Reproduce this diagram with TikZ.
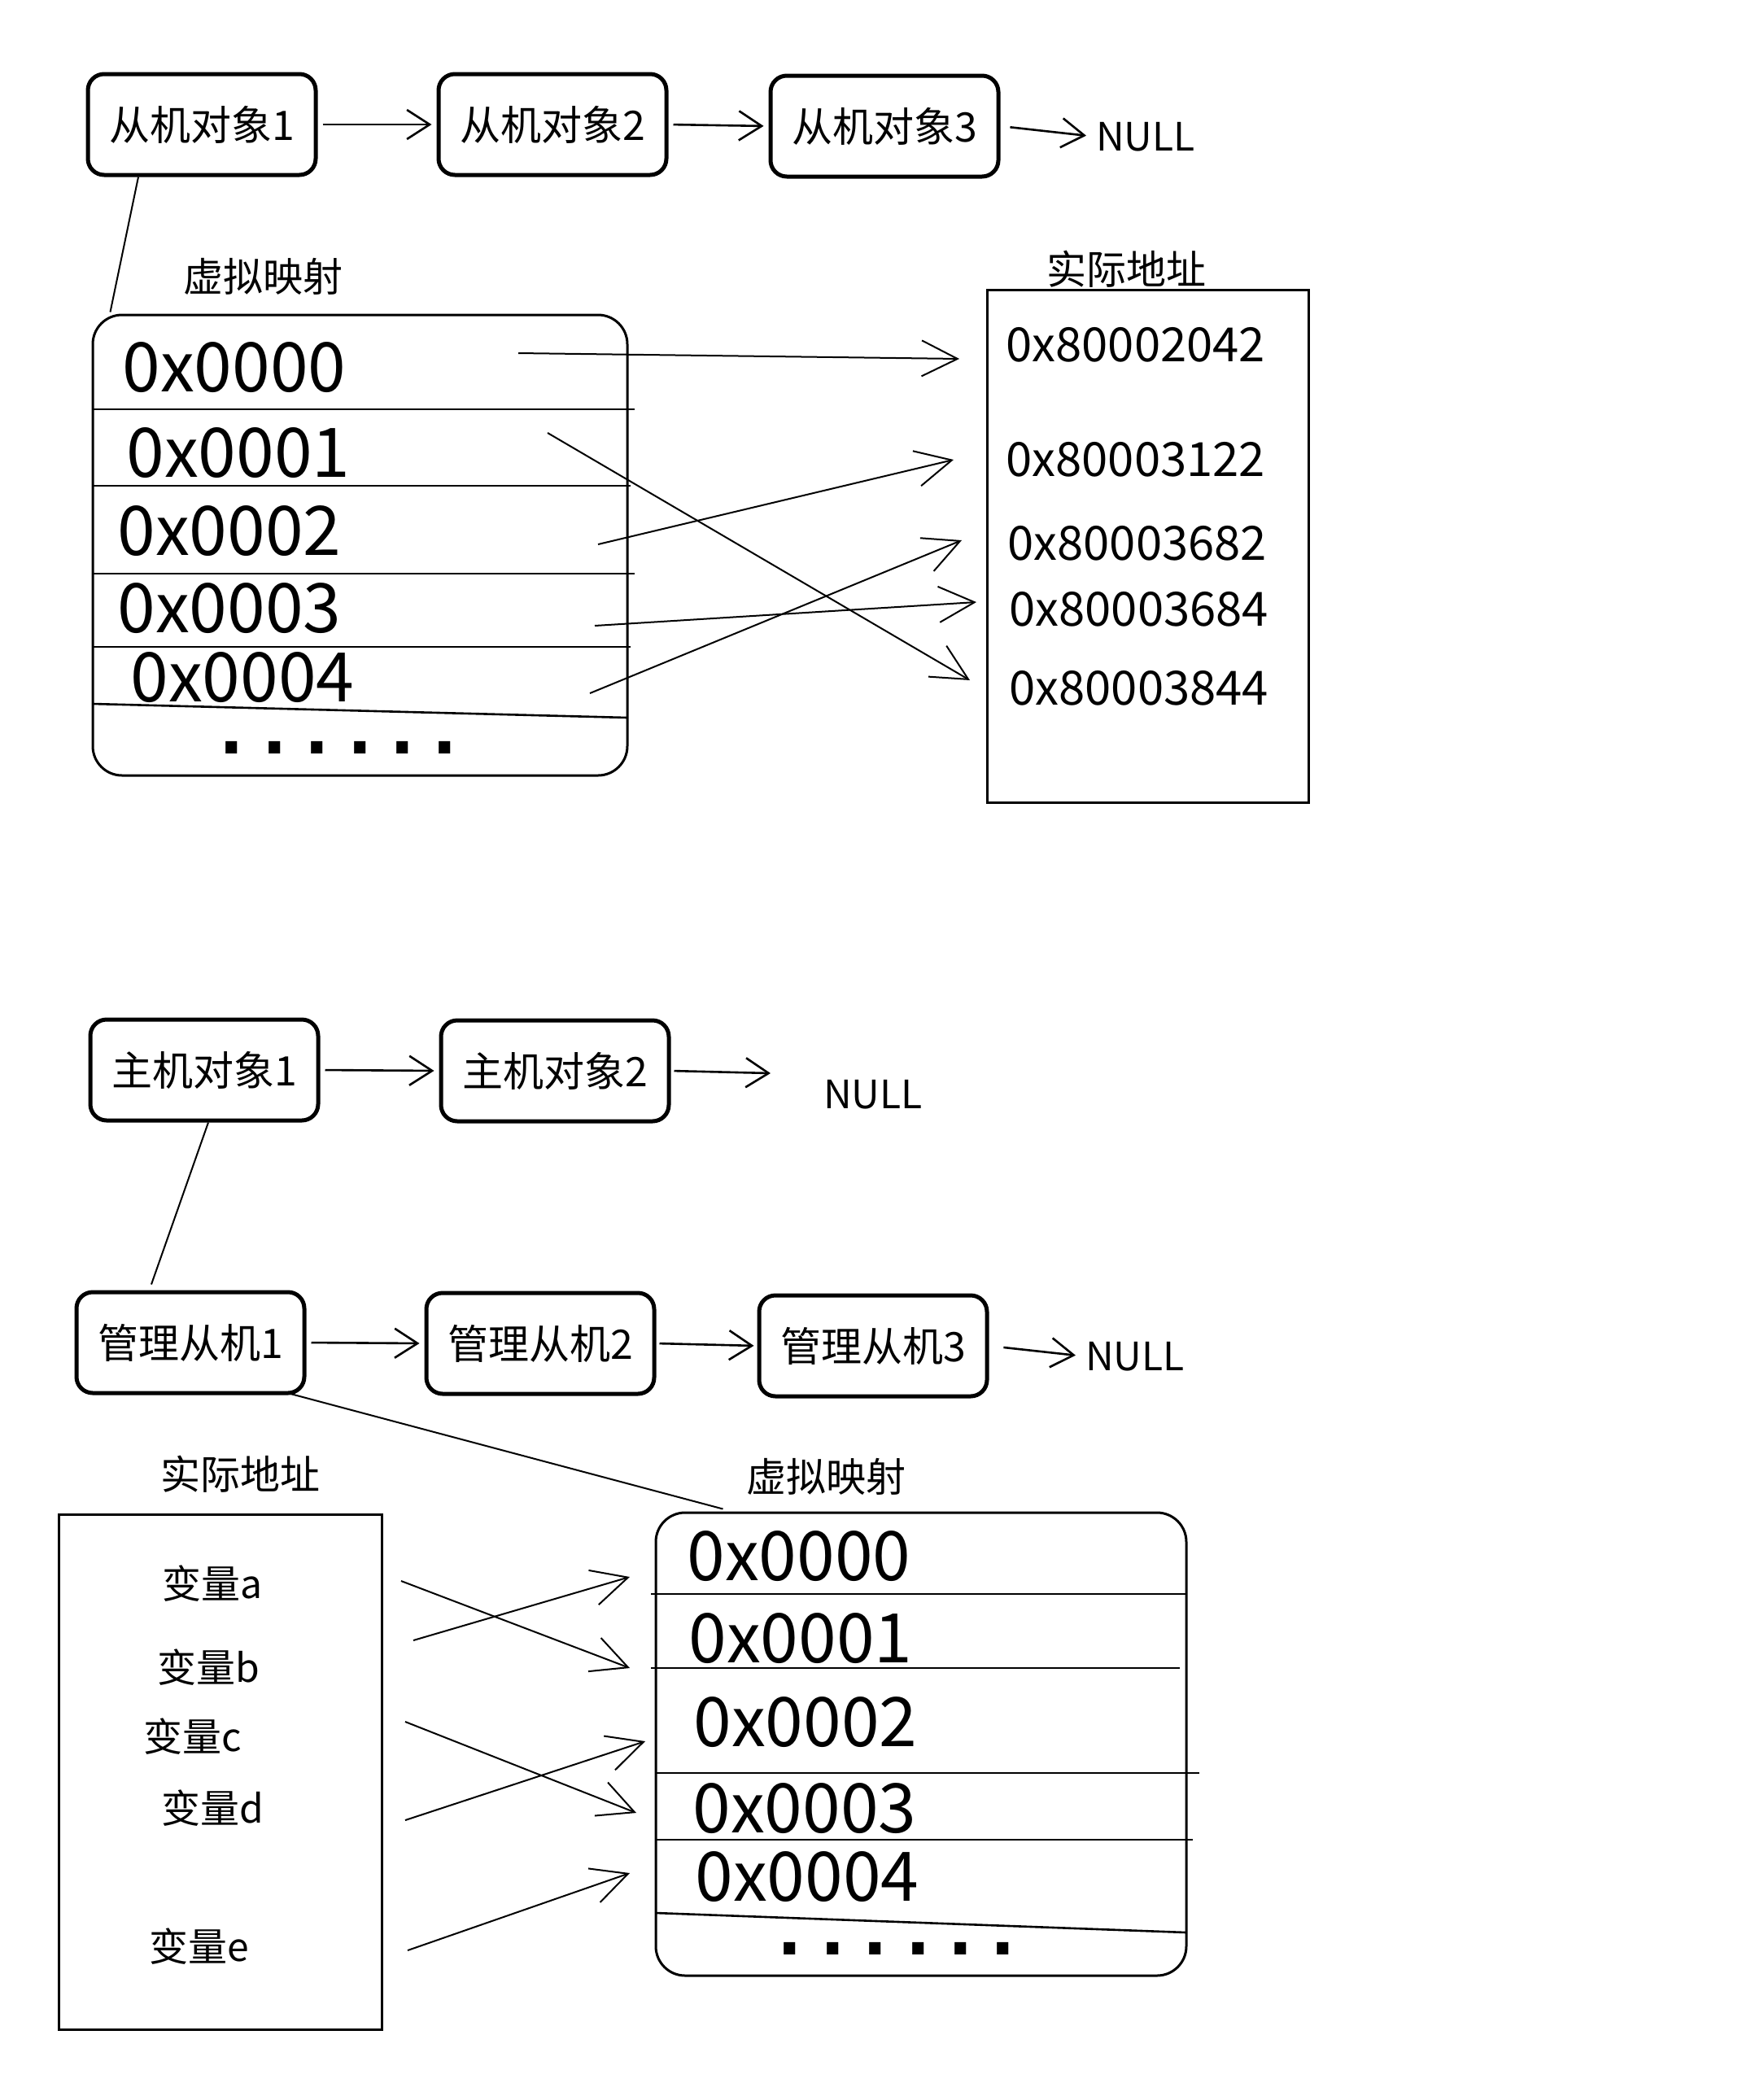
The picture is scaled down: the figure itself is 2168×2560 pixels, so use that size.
\documentclass[tikz,border=0pt]{standalone}
\usepackage{fontspec}
\setmainfont{Noto Sans CJK SC}
\newfontfamily\dotfont{DejaVu Sans}
\usetikzlibrary{arrows.meta,calc}
\newcommand\mydots{.\hspace{11pt}.\hspace{11pt}.\hspace{11pt}.\hspace{11pt}.\hspace{11pt}.}
\begin{document}
\begin{tikzpicture}[x=0.5pt,y=-0.5pt,
  obj/.style={draw, line width=2.5pt, rounded corners=10pt, minimum width=140pt, minimum height=62pt, inner sep=0pt, font=\fontsize{25}{25}\selectfont},
  tblbox/.style={draw, line width=1.5pt, rounded corners=18pt, inner sep=0pt},
  membox/.style={draw, line width=1.5pt, inner sep=0pt},
  rowline/.style={line width=1.3pt},
  bighex/.style={anchor=west, inner sep=0pt, font=\fontsize{42}{42}\selectfont},
  smallhex/.style={anchor=west, inner sep=0pt, font=\fontsize{29}{29}\selectfont},
  caption/.style={inner sep=0pt, font=\fontsize{24.5}{24.5}\selectfont},
  varlabel/.style={inner sep=0pt, font=\fontsize{24}{24}\selectfont},
  nulltext/.style={inner sep=0pt, font=\fontsize{24}{24}\selectfont},
  dotstext/.style={inner sep=0pt, font=\dotfont\bfseries\fontsize{40}{40}\selectfont},
  chainarr/.style={line width=1.3pt, -{Straight Barb[length=14pt,width=18pt]}},
  maparr/.style={line width=1pt, -{Straight Barb[length=22pt,width=22pt]}},
  link/.style={line width=1pt}
]
\useasboundingbox[fill=white] (0,0) rectangle (2168,2560);

% ---------------- top part ----------------
\node[obj] (b1) at (248,153) {从机对象1};
\node[obj] (b2) at (679,153) {从机对象2};
\node[obj] (b3) at (1087,155) {从机对象3};
\node[nulltext] (n1) at (1408,168) {NULL};
\draw[chainarr, shorten <=3pt, shorten >=3pt] (b1.east) -- (b2.west);
\draw[chainarr, shorten <=3pt, shorten >=3pt] (b2.east) -- (b3.west);
\draw[chainarr, shorten <=6pt, shorten >=6pt] (b3.east) -- (n1.west);

\node[caption] (vlab1) at (323,340) {虚拟映射};
\node[caption] (plab1) at (1384,331) {实际地址};

\node[tblbox, minimum width=328.5pt, minimum height=283pt] (vt1) at (442.5,670) {};
\draw[link] ($(b1.south)+(-78,0)$) -- ($(vt1.north west)+(23,-2)$);

\draw[rowline] (114,503) -- (780,503);
\draw[rowline] (114,597) -- (775,597);
\draw[rowline] (114,705) -- (780,705);
\draw[rowline] (114,795) -- (775,795);
\draw[rowline] (114,865) -- (771,882);

\node[bighex] (v0) at (150,452) {0x0000};
\node[bighex] (v1) at (155,557) {0x0001};
\node[bighex] (v2) at (144,653) {0x0002};
\node[bighex] (v3) at (144,748) {0x0003};
\node[bighex] (v4) at (160,833) {0x0004};
\node[dotstext] (d1) at (416,919) {\mydots};

\node[membox, minimum width=197.5pt, minimum height=315pt] (pm1) at (1410.5,671) {};
\node[smallhex] (p0) at (1236,424) {0x80002042};
\node[smallhex] (p1) at (1236,565) {0x80003122};
\node[smallhex] (p2) at (1238,668) {0x80003682};
\node[smallhex] (p3) at (1240,749) {0x80003684};
\node[smallhex] (p4) at (1240,846) {0x80003844};

\coordinate (s0) at (637,434);  \coordinate (e0) at (1179,441);
\coordinate (s1) at (673,532);  \coordinate (e1) at (1192,836);
\coordinate (s2) at (735,669);  \coordinate (e2) at (1172,565);
\coordinate (s3) at (731,769);  \coordinate (e3) at (1200,740);
\coordinate (s4) at (725,852);  \coordinate (e4) at (1182,664);
\draw[maparr] (s0) -- (e0);
\draw[maparr] (s1) -- (e1);
\draw[maparr] (s2) -- (e2);
\draw[maparr] (s3) -- (e3);
\draw[maparr] (s4) -- (e4);

% ---------------- bottom part ----------------
\node[obj] (m1) at (251,1315) {主机对象1};
\node[obj] (m2) at (682,1316) {主机对象2};
\node[nulltext] (n2) at (1073,1345) {NULL};
\coordinate (m2end) at (947,1319);
\draw[chainarr, shorten <=3pt, shorten >=3pt] (m1.east) -- (m2.west);
\draw[chainarr, shorten <=2pt] (m2.east) -- (m2end);

\node[obj] (k1) at (234,1650) {管理从机1};
\node[obj] (k2) at (664,1651) {管理从机2};
\node[obj] (k3) at (1073,1654) {管理从机3};
\node[nulltext] (n3) at (1395,1667) {NULL};
\draw[chainarr, shorten <=3pt, shorten >=3pt] (k1.east) -- (k2.west);
\draw[chainarr, shorten <=2pt, shorten >=2pt] (k2.east) -- (k3.west);
\draw[chainarr, shorten <=9pt, shorten >=6pt] (k3.east) -- (n3.west);

\draw[link] ($(m1.south)+(5,0)$) -- ($(k1.north)+(-48,-7)$);

\node[caption] (plab2) at (295,1812) {实际地址};
\node[caption] (vlab2) at (1015,1815) {虚拟映射};

\node[membox, minimum width=198.5pt, minimum height=316.5pt] (pm2) at (270.5,2177.5) {};
\node[varlabel] (va) at (261,1946) {变量a};
\node[varlabel] (vb) at (256,2049) {变量b};
\node[varlabel] (vc) at (237,2134) {变量c};
\node[varlabel] (vd) at (261,2222) {变量d};
\node[varlabel] (ve) at (245,2392) {变量e};

\node[tblbox, minimum width=326pt, minimum height=284.5pt] (vt2) at (1132,2143.5) {};
\draw[link] ($(k1.south east)+(-25,-3)$) -- ($(vt2.north west)+(84,-3)$);

\draw[rowline] (800,1959) -- (1458,1959);
\draw[rowline] (800,2050) -- (1450,2050);
\draw[rowline] (806,2179) -- (1474,2179);
\draw[rowline] (806,2261) -- (1466,2261);
\draw[rowline] (806,2351) -- (1458,2375);

\node[bighex] (w0) at (844,1913) {0x0000};
\node[bighex] (w1) at (846,2014) {0x0001};
\node[bighex] (w2) at (852,2117) {0x0002};
\node[bighex] (w3) at (851,2223) {0x0003};
\node[bighex] (w4) at (854,2307) {0x0004};
\node[dotstext] (d2) at (1102,2395) {\mydots};

\coordinate (ta) at (493,1943);  \coordinate (ua) at (774,2050);
\coordinate (tb) at (508,2016);  \coordinate (ub) at (774,1938);
\coordinate (tc) at (498,2116);  \coordinate (uc) at (782,2228);
\coordinate (td) at (498,2237);  \coordinate (ud) at (793,2140);
\coordinate (te) at (501,2397);  \coordinate (ue) at (774,2302);
\draw[maparr] (ta) -- (ua);
\draw[maparr] (tb) -- (ub);
\draw[maparr] (tc) -- (uc);
\draw[maparr] (td) -- (ud);
\draw[maparr] (te) -- (ue);
\end{tikzpicture}
\end{document}
